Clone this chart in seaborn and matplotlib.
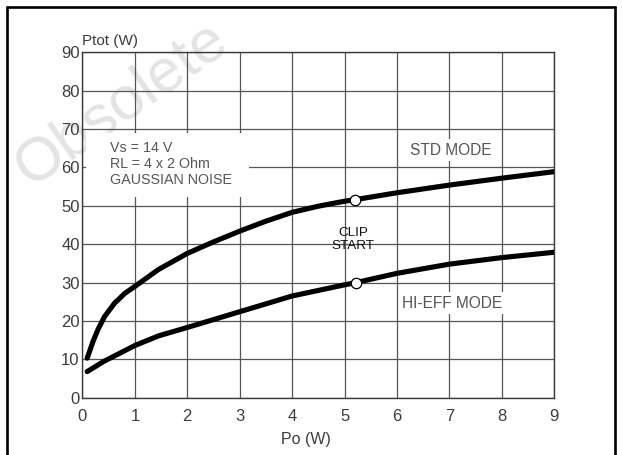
import matplotlib
matplotlib.use("Agg")
import matplotlib.pyplot as plt
from matplotlib.lines import Line2D
from matplotlib.patches import Rectangle
import seaborn as sns
import pandas as pd

# ---- data ----
std_po = [0.09, 0.2, 0.3, 0.42, 0.61, 0.81, 1.0, 1.45, 2.0, 2.5, 3.0, 3.5, 4.0, 4.5, 5.0, 5.2, 6.0, 7.0, 8.0, 9.0]
std_ptot = [10.3, 14.6, 17.9, 21.1, 24.6, 27.2, 29.0, 33.4, 37.6, 40.6, 43.4, 46.0, 48.3, 49.9, 51.2, 51.6, 53.4, 55.4, 57.2, 58.9]
hieff_po = [0.09, 0.4, 1.0, 1.45, 2.0, 3.0, 4.0, 5.0, 5.22, 6.0, 7.0, 8.0, 9.0]
hieff_ptot = [6.8, 9.4, 13.6, 16.1, 18.3, 22.4, 26.5, 29.4, 30.0, 32.4, 34.8, 36.5, 37.9]
clip_po = [5.2, 5.22]
clip_ptot = [51.6, 30.0]
x_ticks = [0, 1, 2, 3, 4, 5, 6, 7, 8, 9]
y_ticks = [0, 10, 20, 30, 40, 50, 60, 70, 80, 90]

sns.set_theme(style="white")
plt.rcParams["font.family"] = ["Liberation Sans", "DejaVu Sans"]

df = pd.concat([
    pd.DataFrame({"Po": std_po, "Ptot": std_ptot, "mode": "STD"}),
    pd.DataFrame({"Po": hieff_po, "Ptot": hieff_ptot, "mode": "HI-EFF"}),
])

fig = plt.figure(figsize=(6.22, 4.55), dpi=100)
ax = fig.add_axes([0.1326, 0.126, 0.7584, 0.759])
ax.set_zorder(2)
ax.patch.set_alpha(0)

# faint watermark behind the chart
fig.text(0.195, 0.77, "Obsolete", fontsize=44, color="#e4e4e4", rotation=35,
         ha="center", va="center", zorder=0)

sns.lineplot(data=df, x="Po", y="Ptot", units="mode", estimator=None,
             color="black", linewidth=3.7, ax=ax, legend=False, zorder=3)
ax.plot(clip_po, clip_ptot, linestyle="none", marker="o", markersize=7.5,
        markerfacecolor="white", markeredgecolor="black", markeredgewidth=0.9, zorder=5)

ax.set_xlim(0, 9)
ax.set_ylim(0, 90)
ax.set_xticks(x_ticks)
ax.set_yticks(y_ticks)
ax.grid(True, color="#555555", linewidth=0.9)
ax.set_axisbelow(True)
for s in ax.spines.values():
    s.set_color("#3a3a3a")
    s.set_linewidth(1.0)
ax.tick_params(axis="x", length=0, labelsize=12, labelcolor="#3c3c3c", pad=8.5)
ax.tick_params(axis="y", length=0, labelsize=12, labelcolor="#3c3c3c", pad=2)
ax.set_xlabel("Po (W)", fontsize=11.5, color="#3c3c3c")
ax.xaxis.set_label_coords(0.474, -0.10)
ax.set_ylabel("")
ax.text(0.0, 1.012, "Ptot (W)", transform=ax.transAxes, fontsize=11,
        color="#3c3c3c", ha="left", va="bottom")

# white box behind the test-condition text
ax.add_patch(Rectangle((0.0085, 0.581), 0.345, 0.185, transform=ax.transAxes,
                       facecolor="white", edgecolor="none", zorder=2.5))
ax.text(0.52, 60.9, "Vs = 14 V\nRL = 4 x 2 Ohm\nGAUSSIAN NOISE", fontsize=10.3,
        color="#555555", ha="left", va="center", linespacing=1.22, zorder=4)

bbox = dict(facecolor="white", edgecolor="none", pad=2.5)
ax.text(7.03, 64.5, "STD MODE", fontsize=11.2, color="#555555", ha="center",
        va="center", bbox=bbox, zorder=4)
ax.text(7.06, 24.6, "HI-EFF MODE", fontsize=11.2, color="#555555", ha="center",
        va="center", bbox=bbox, zorder=4)
ax.text(5.16, 41.2, "CLIP\nSTART", fontsize=9.7, color="#111111", ha="center",
        va="center", linespacing=1.05, zorder=4)

# outer frame (left, top, right)
W, H = 622, 455
def px(x, y):
    return x / W, 1 - y / H
for (x0, y0), (x1, y1) in [((7, 455), (7, 7)), ((7, 7), (615, 7)), ((615, 7), (615, 455))]:
    a, b = px(x0, y0)
    c, d = px(x1, y1)
    fig.add_artist(Line2D([a, c], [b, d], transform=fig.transFigure,
                          color="black", linewidth=1.9, zorder=3))

fig.savefig("out.png", dpi=100)
